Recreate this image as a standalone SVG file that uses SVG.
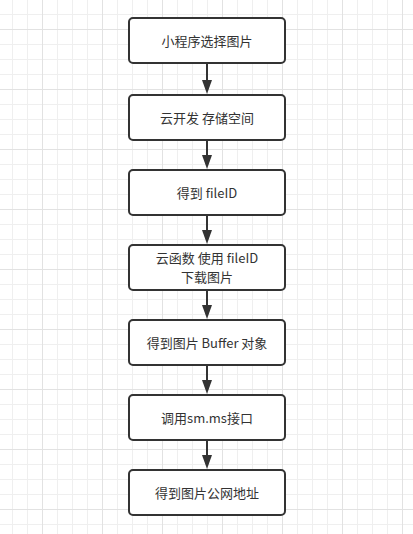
<svg xmlns="http://www.w3.org/2000/svg" width="413" height="534" viewBox="0 0 413 534">
  <style>
    .node rect { fill: #ffffff; stroke: #333333; stroke-width: 2; }
    .node text { font-family: "Noto Sans CJK SC", "Liberation Sans", sans-serif; font-size: 13px; fill: #333333; text-anchor: middle; }
    .edge { stroke: #333333; stroke-width: 2; fill: none; marker-end: url(#arrow); }
  </style>
  <defs>
    <pattern id="minor" patternUnits="userSpaceOnUse" x="12" y="14" width="15" height="15">
      <path d="M0.5 0 V15 M0 0.5 H15" stroke="#efefef" stroke-width="1" fill="none"/>
    </pattern>
    <pattern id="major" patternUnits="userSpaceOnUse" x="42" y="29" width="60" height="60">
      <path d="M0.5 0 V60 M0 0.5 H60" stroke="#e2e2e2" stroke-width="1" fill="none"/>
    </pattern>
    <marker id="arrow" viewBox="0 0 14 10" refX="4" refY="5" markerWidth="14" markerHeight="10" markerUnits="userSpaceOnUse" orient="auto">
      <path d="M0 0 L14 5 L0 10 Z" fill="#333333"/>
    </marker>
  </defs>
  <rect width="413" height="534" fill="#ffffff"/>
  <rect width="413" height="534" fill="url(#minor)"/>
  <rect width="413" height="534" fill="url(#major)"/>

  <g id="connectors">
    <path class="edge" d="M207 63 V84"/>
    <path class="edge" d="M207 140 V159"/>
    <path class="edge" d="M207 215 V234"/>
    <path class="edge" d="M207 290 V309"/>
    <path class="edge" d="M207 365 V384"/>
    <path class="edge" d="M207 440 V459"/>
  </g>

  <g id="n1" class="node">
    <rect x="129" y="18" width="156" height="45" rx="4"/>
    <text x="207" y="46">小程序选择图片</text>
  </g>
  <g id="n2" class="node">
    <rect x="129" y="95" width="156" height="45" rx="4"/>
    <text x="207" y="123">云开发 存储空间</text>
  </g>
  <g id="n3" class="node">
    <rect x="129" y="170" width="156" height="45" rx="4"/>
    <text x="207" y="198">得到 fileID</text>
  </g>
  <g id="n4" class="node">
    <rect x="129" y="245" width="156" height="45" rx="4"/>
    <text x="207" y="263">云函数 使用 fileID</text>
    <text x="207" y="282">下载图片</text>
  </g>
  <g id="n5" class="node">
    <rect x="129" y="320" width="156" height="45" rx="4"/>
    <text x="207" y="348">得到图片 Buffer 对象</text>
  </g>
  <g id="n6" class="node">
    <rect x="129" y="395" width="156" height="45" rx="4"/>
    <text x="207" y="423">调用sm.ms接口</text>
  </g>
  <g id="n7" class="node">
    <rect x="129" y="470" width="156" height="45" rx="4"/>
    <text x="207" y="498">得到图片公网地址</text>
  </g>
</svg>
